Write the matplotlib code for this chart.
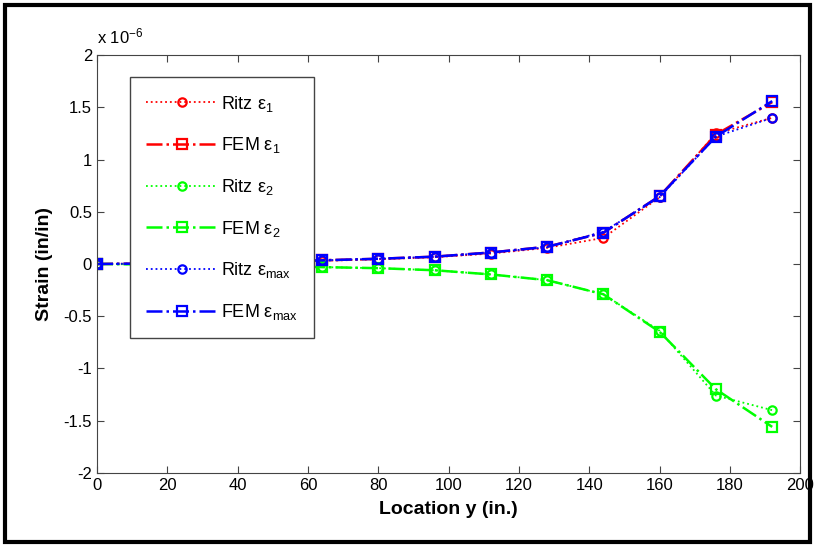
import numpy as np
import matplotlib.pyplot as plt
from matplotlib.ticker import FuncFormatter, MultipleLocator
from matplotlib.patches import Rectangle

plt.rcParams['font.family'] = ['Liberation Sans', 'DejaVu Sans']
plt.rcParams['mathtext.fontset'] = 'custom'
plt.rcParams['mathtext.rm'] = 'Liberation Sans'
plt.rcParams['mathtext.it'] = 'Liberation Sans'

# Location along the span (in.)
y_loc = [0, 16, 32, 48, 64, 80, 96, 112, 128, 144, 160, 176, 192]

# Strain values (in/in)
ritz_e1 = [0, 0.005e-6, 0.01e-6, 0.02e-6, 0.03e-6, 0.045e-6, 0.065e-6, 0.10e-6, 0.155e-6, 0.25e-6, 0.64e-6, 1.25e-6, 1.40e-6]
fem_e1 = [0, 0.005e-6, 0.01e-6, 0.02e-6, 0.035e-6, 0.05e-6, 0.07e-6, 0.11e-6, 0.165e-6, 0.30e-6, 0.65e-6, 1.24e-6, 1.55e-6]
ritz_e2 = [0, -0.005e-6, -0.01e-6, -0.02e-6, -0.03e-6, -0.04e-6, -0.06e-6, -0.10e-6, -0.155e-6, -0.29e-6, -0.64e-6, -1.26e-6, -1.40e-6]
fem_e2 = [0, -0.005e-6, -0.01e-6, -0.02e-6, -0.03e-6, -0.04e-6, -0.06e-6, -0.10e-6, -0.155e-6, -0.29e-6, -0.65e-6, -1.20e-6, -1.56e-6]
ritz_emax = [0, 0.005e-6, 0.01e-6, 0.02e-6, 0.035e-6, 0.05e-6, 0.07e-6, 0.11e-6, 0.16e-6, 0.31e-6, 0.64e-6, 1.22e-6, 1.40e-6]
fem_emax = [0, 0.005e-6, 0.01e-6, 0.02e-6, 0.035e-6, 0.05e-6, 0.07e-6, 0.11e-6, 0.165e-6, 0.30e-6, 0.65e-6, 1.22e-6, 1.56e-6]

fig = plt.figure(figsize=(8.15, 5.46), dpi=100)
ax = fig.add_axes([0.119, 0.134, 0.863, 0.765])

# outer black frame like the original screenshot
fig.patches.append(Rectangle((0.006, 0.008), 0.988, 0.982, transform=fig.transFigure,
                             fill=False, edgecolor='black', linewidth=3))

ms = 6
ax.plot(y_loc, ritz_e1, ':', color='r', marker='o', mfc='none', ms=ms, mew=1.6, lw=1.3, label=r'Ritz $\varepsilon_1$')
ax.plot(y_loc, fem_e1, '-.', color='r', marker='s', mfc='none', ms=ms + 1, mew=1.6, lw=1.8, label=r'FEM $\varepsilon_1$')
ax.plot(y_loc, ritz_e2, ':', color='#00ff00', marker='o', mfc='none', ms=ms, mew=1.6, lw=1.3, label=r'Ritz $\varepsilon_2$')
ax.plot(y_loc, fem_e2, '-.', color='#00ff00', marker='s', mfc='none', ms=ms + 1, mew=1.6, lw=1.8, label=r'FEM $\varepsilon_2$')
ax.plot(y_loc, ritz_emax, ':', color='b', marker='o', mfc='none', ms=ms, mew=1.6, lw=1.3, label=r'Ritz $\varepsilon_{max}$')
ax.plot(y_loc, fem_emax, '-.', color='b', marker='s', mfc='none', ms=ms + 1, mew=1.6, lw=1.8, label=r'FEM $\varepsilon_{max}$')

ax.set_xlim(0, 200)
ax.set_ylim(-2e-6, 2e-6)
ax.xaxis.set_major_locator(MultipleLocator(20))
ax.yaxis.set_major_locator(MultipleLocator(0.5e-6))
ax.yaxis.set_major_formatter(FuncFormatter(lambda v, p: f'{v / 1e-6:g}'))
ax.tick_params(direction='in', top=True, right=True, labelsize=12, length=5, color='#444444')
for s in ax.spines.values():
    s.set_color('#444444')

ax.text(0.0, 1.02, r'x 10$^{-6}$', transform=ax.transAxes, fontsize=12, va='bottom', ha='left')

ax.set_xlabel('Location y (in.)', fontsize=14, fontweight='bold', labelpad=6)
ax.set_ylabel('Strain (in/in)', fontsize=14, fontweight='bold', labelpad=8)

leg = ax.legend(loc='upper left', bbox_to_anchor=(0.047, 0.947), borderaxespad=0,
                fontsize=13, handlelength=3.9, handletextpad=0.25, labelspacing=1.2,
                fancybox=False, framealpha=1, edgecolor='#444444', borderpad=0.9)
leg.get_frame().set_linewidth(1.0)

fig.savefig('out.png', dpi=100)
